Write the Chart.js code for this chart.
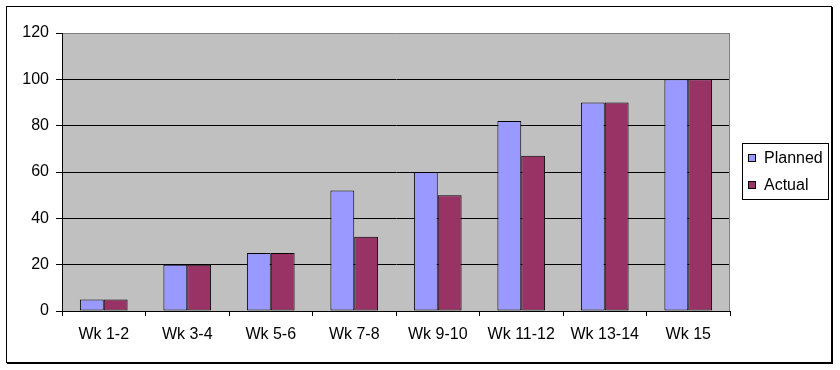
<!DOCTYPE html>
<html>
<head>
<meta charset="utf-8">
<script src="https://cdn.jsdelivr.net/npm/chart.js@4/dist/chart.umd.min.js"></script>
<style>
  html, body { margin: 0; padding: 0; background: #ffffff; }
  #wrap { width: 840px; height: 370px; }
</style>
</head>
<body>
<div id="wrap"><canvas id="c" width="840" height="370"></canvas></div>
<script>
const categories = ['Wk 1-2', 'Wk 3-4', 'Wk 5-6', 'Wk 7-8', 'Wk 9-10', 'Wk 11-12', 'Wk 13-14', 'Wk 15'];
const seriesNames = ['Planned', 'Actual'];
const plannedValues = [5, 20, 25, 52, 60, 82, 90, 100];
const actualValues = [5, 20, 25, 32, 50, 67, 90, 100];
const yMin = 0;
const yMax = 120;
const yStep = 20;

const FONT = '"Liberation Sans", Arial, sans-serif';
const PLANNED_COLOR = '#9999FF';
const ACTUAL_COLOR = '#993366';

const frame = {
  id: 'frame',
  beforeDraw(chart) {
    const ctx = chart.ctx;
    const a = chart.chartArea;
    ctx.save();
    ctx.fillStyle = '#ffffff';
    ctx.fillRect(0, 0, chart.width, chart.height);
    ctx.fillStyle = '#C0C0C0';
    ctx.fillRect(a.left, a.top, a.right - a.left, a.bottom - a.top);
    ctx.restore();
  },
  afterDraw(chart) {
    const ctx = chart.ctx;
    const a = chart.chartArea;
    ctx.save();
    // plot area right border
    ctx.strokeStyle = '#808080';
    ctx.lineWidth = 1;
    ctx.beginPath();
    ctx.moveTo(Math.round(a.right) - 0.5, a.top);
    ctx.lineTo(Math.round(a.right) - 0.5, a.bottom);
    ctx.stroke();
    // outer border
    ctx.strokeStyle = '#000000';
    ctx.lineWidth = 1;
    ctx.strokeRect(6.5, 6.5, 825, 356);
    ctx.beginPath();
    ctx.moveTo(832.5, 7); ctx.lineTo(832.5, 364);
    ctx.moveTo(7, 363.5); ctx.lineTo(833, 363.5);
    ctx.stroke();
    // legend
    const lx = 742.5, ly = 143.5, lw = 86, lh = 56;
    ctx.fillStyle = '#ffffff';
    ctx.fillRect(lx, ly, lw, lh);
    ctx.strokeStyle = '#000000';
    ctx.strokeRect(lx, ly, lw, lh);
    ctx.font = '16px ' + FONT;
    ctx.textBaseline = 'middle';
    ctx.textAlign = 'left';
    chart.data.datasets.forEach((ds, i) => {
      const cy = 158 + i * 27;
      ctx.fillStyle = ds.backgroundColor;
      ctx.fillRect(748.5, cy - 3.5, 7, 7);
      ctx.strokeStyle = '#000000';
      ctx.strokeRect(748.5, cy - 3.5, 7, 7);
      ctx.fillStyle = '#000000';
      ctx.fillText(ds.label, 764, cy + 1);
    });
    ctx.restore();
  }
};

new Chart(document.getElementById('c'), {
  type: 'bar',
  data: {
    labels: categories,
    datasets: [
      { label: seriesNames[0], data: plannedValues, backgroundColor: PLANNED_COLOR, borderColor: '#000000', borderWidth: 1, borderSkipped: false },
      { label: seriesNames[1], data: actualValues, backgroundColor: ACTUAL_COLOR, borderColor: '#000000', borderWidth: 1, borderSkipped: false }
    ]
  },
  options: {
    responsive: false,
    animation: false,
    devicePixelRatio: 1,
    layout: { padding: { left: 0, right: 110, top: 33, bottom: 0 } },
    datasets: { bar: { categoryPercentage: 2 / 3.5, barPercentage: 1 } },
    plugins: { legend: { display: false }, tooltip: { enabled: false }, title: { display: false } },
    scales: {
      x: {
        offset: true,
        grid: { offset: true, drawOnChartArea: false, drawTicks: true, tickLength: 5, color: '#000000', lineWidth: 1 },
        border: { display: true, color: '#000000', width: 1 },
        ticks: { color: '#000000', font: { family: FONT, size: 16 }, padding: 9, maxRotation: 0, autoSkip: false },
        afterFit(scale) { scale.height = 59; }
      },
      y: {
        min: yMin, max: yMax,
        grid: {
          color: (c) => (c.tick && c.tick.value === yMax) ? '#808080' : '#000000',
          lineWidth: 1, tickLength: 6, drawTicks: true,
          tickColor: '#000000'
        },
        border: { display: true, color: '#000000', width: 1 },
        ticks: { stepSize: yStep, color: '#000000', font: { family: FONT, size: 16 }, padding: 7 },
        afterFit(scale) { scale.width = 62; }
      }
    }
  },
  plugins: [frame]
});
</script>
</body>
</html>
